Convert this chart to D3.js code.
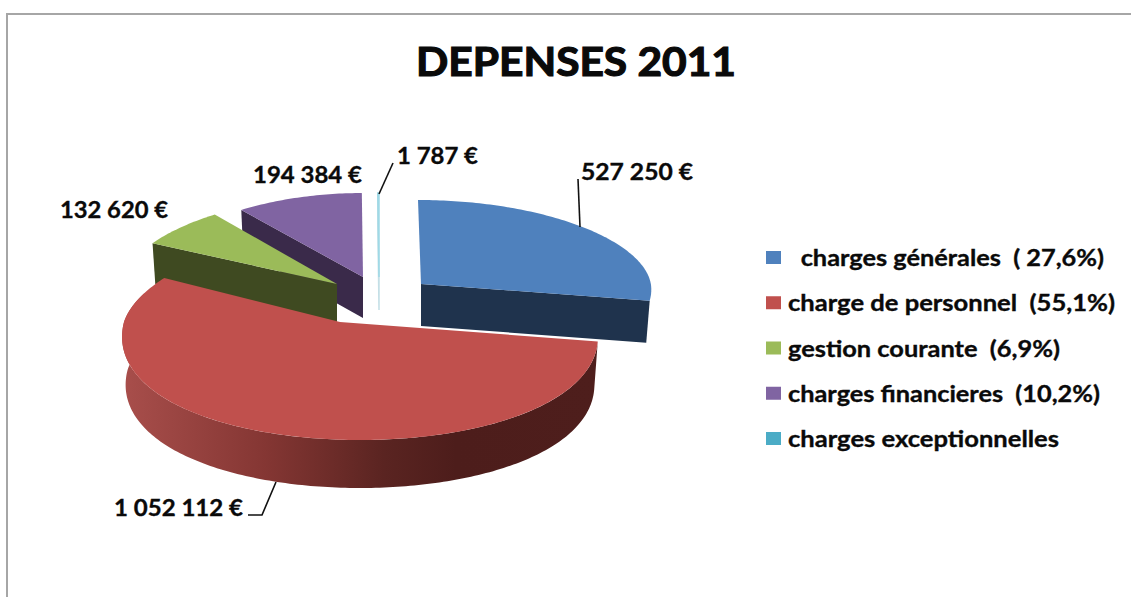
<!DOCTYPE html>
<html>
<head>
<meta charset="utf-8">
<script src="https://cdnjs.cloudflare.com/ajax/libs/d3/7.8.5/d3.min.js"></script>
<style>
  html, body { margin: 0; padding: 0; background: #fff; }
  svg { display: block; }
  text { font-family: Lato, "Open Sans", sans-serif; font-weight: 700; fill: #0a0a0a; stroke: #0a0a0a; stroke-width: 0.35; white-space: pre; }
</style>
</head>
<body>
<div id="chart"></div>
<script>
// data
var categories = ['charges générales', 'charge de personnel', 'gestion courante', 'charges financieres', 'charges exceptionnelles'];
var values = [527250, 1052112, 132620, 194384, 1787];
var legendLabels = ['\u2002charges générales  ( 27,6%)', 'charge de personnel  (55,1%)', 'gestion courante  (6,9%)', 'charges financieres  (10,2%)', 'charges exceptionnelles'];
var colors = ['#4f81bd', '#c0504d', '#9bbb59', '#8064a2', '#4bacc6'];
var wallColors = ['#1f334d', '#7e3331', '#3f4a21', '#3a2a4a', '#c4dfe6'];

// where each exploded slice sits: rim centre, apex, radii
var sliceLayout = [
  { cx: 418, cy: 285, ax: 421, ay: 284, rx: 233, far: 85, near: 95, depth: 42, persp: 0.05 },
  { cx: 360, cy: 322, ax: 340, ay: 322, rx: 236, far: 94, near: 118, depth: 48, persp: 0.13 },
  { cx: 337, cy: 284, ax: 337, ay: 284, rx: 217, far: 87, near: 95, depth: 41, persp: 0.08 },
  { cx: 363, cy: 277, ax: 363, ay: 277, rx: 216, far: 84, near: 95, depth: 41, persp: 0.08 },
  { cx: 379, cy: 277, ax: 379, ay: 277, rx: 219, far: 84, near: 95, depth: 33, persp: 0.08 }
];
var labelLayout = [
  { x: 581, y: 180, w: 112 },
  { x: 114, y: 516, w: 129 },
  { x: 60, y: 218, w: 108 },
  { x: 253, y: 183, w: 109 },
  { x: 397, y: 164, w: 81 }
];
var legendWidths = [316, 327, 272, 312, 271];

var width = 1131;
var height = 597;

var svg = d3.select('#chart').append('svg')
  .attr('width', width)
  .attr('height', height);

var money = d3.formatLocale({ decimal: ',', thousands: ' ', grouping: [3], currency: ['', ' €'] }).format('$,.0f');

var arcs = d3.pie().sort(null)(values);

// rim point of a slice at angle t (0 = top, clockwise)
function rim (s, t, drop) {
  var c = Math.cos(t);
  var shrink = drop ? 0.985 : 1;
  return [
    s.cx + s.rx * Math.sin(t) * (1 - s.persp * c) * shrink,
    s.cy - c * (c > 0 ? s.far : s.near) + (drop || 0)
  ];
}

function sample (from, to) {
  var n = Math.max(2, Math.ceil(Math.abs(to - from) * 60));
  return d3.range(n + 1).map(function (i) {
    return from + (to - from) * i / n;
  });
}

var line = d3.line();

function topFace (s, a) {
  var pts = sample(a.startAngle, a.endAngle).map(function (t) { return rim(s, t); });
  pts.push([s.ax, s.ay]);
  return line(pts) + 'Z';
}

// wall under the straight cut running from the apex to the rim at angle t
function cutWall (s, t) {
  var p = rim(s, t);
  var q = rim(s, t, s.depth);
  return line([[s.ax, s.ay], p, q, [s.ax, s.ay + s.depth]]) + 'Z';
}

// curved outer wall between two angles
function rimWall (s, from, to) {
  var ts = sample(from, to);
  var up = ts.map(function (t) { return rim(s, t); });
  var down = ts.slice().reverse().map(function (t) { return rim(s, t, s.depth); });
  return line(up.concat(down)) + 'Z';
}

var gradient = svg.append('defs').append('linearGradient')
  .attr('id', 'redWall')
  .attr('gradientUnits', 'userSpaceOnUse')
  .attr('x1', 124).attr('x2', 598)
  .attr('y1', 0).attr('y2', 0);

gradient.selectAll('stop')
  .data([[0, '#a84e4b'], [0.3, '#843633'], [0.55, '#5a2421'], [0.7, '#4d1d1b'], [1, '#4e1e1c']])
  .enter().append('stop')
  .attr('offset', function (d) { return d[0]; })
  .attr('stop-color', function (d) { return d[1]; });

// frame, only top and left show in the picture
svg.append('path')
  .attr('d', line([[7, height], [7, 14], [width, 14]]))
  .attr('fill', 'none')
  .attr('stroke', '#a6a6a6')
  .attr('stroke-width', 2);

var pie = svg.append('g');

// back to front
[4, 3, 2, 0, 1].forEach(function (i) {
  var s = sliceLayout[i];
  var a = arcs[i];
  var g = pie.append('g').attr('class', 'slice');

  if (i === 1) {
    // run the wall past the widest point, the top face covers the rest
    g.append('path')
      .attr('d', rimWall(s, a.startAngle, 1.6 * Math.PI))
      .attr('fill', 'url(#redWall)');
  } else if (i === 4) {
    g.append('path')
      .attr('d', cutWall(s, a.startAngle))
      .attr('fill', wallColors[i])
      .attr('stroke', wallColors[i])
      .attr('stroke-width', 1.5);
  } else if (i === 0) {
    g.append('path')
      .attr('d', cutWall(s, a.endAngle))
      .attr('fill', wallColors[i]);
  } else {
    g.append('path')
      .attr('d', cutWall(s, a.startAngle))
      .attr('fill', wallColors[i]);
  }

  var face = g.append('path')
    .attr('d', topFace(s, a))
    .attr('fill', i === 4 ? '#9fd9e6' : colors[i]);
  if (i === 4) face.attr('stroke', '#9fd9e6').attr('stroke-width', 1.5);
});

// leader lines
var leaders = [
  [[580, 227], [578, 179]],
  [[276, 482], [262, 515], [248, 515]],
  [[379, 194], [393, 163]]
];
svg.selectAll('.leader')
  .data(leaders)
  .enter().append('path')
  .attr('class', 'leader')
  .attr('d', line)
  .attr('fill', 'none')
  .attr('stroke', '#111')
  .attr('stroke-width', 1.6);

// value labels
svg.selectAll('.value-label')
  .data(values)
  .enter().append('text')
  .attr('class', 'value-label')
  .attr('x', function (d, i) { return labelLayout[i].x; })
  .attr('y', function (d, i) { return labelLayout[i].y; })
  .attr('font-size', 23)
  .attr('textLength', function (d, i) { return labelLayout[i].w; })
  .attr('lengthAdjust', 'spacingAndGlyphs')
  .text(function (d) { return money(d); });

// title
svg.append('text')
  .attr('x', 416)
  .attr('y', 76)
  .attr('font-size', 41)
  .style('stroke-width', 1.2)
  .attr('textLength', 320)
  .attr('lengthAdjust', 'spacingAndGlyphs')
  .text('DEPENSES 2011');

// legend
var legendY = d3.scalePoint()
  .domain(categories)
  .range([258, 439]);

var legend = svg.selectAll('.legend-row')
  .data(categories)
  .enter().append('g')
  .attr('class', 'legend-row')
  .attr('transform', function (d) { return 'translate(766,' + legendY(d) + ')'; });

legend.append('rect')
  .attr('y', -7)
  .attr('width', 15)
  .attr('height', 13)
  .attr('fill', function (d, i) { return colors[i]; });

legend.append('text')
  .attr('x', 22)
  .attr('y', 8)
  .attr('font-size', 23)
  .attr('textLength', function (d, i) { return legendWidths[i]; })
  .attr('lengthAdjust', 'spacingAndGlyphs')
  .text(function (d, i) { return legendLabels[i]; });
</script>
</body>
</html>
